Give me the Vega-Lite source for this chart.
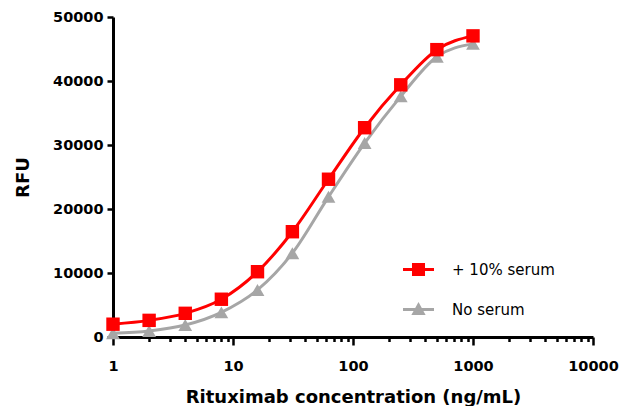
{
  "$schema": "https://vega.github.io/schema/vega-lite/v6.json",
  "width": 480,
  "height": 320,
  "autosize": {"type": "none"},
  "padding": {"left": 113, "top": 17, "right": 27, "bottom": 69},
  "background": "white",
  "config": {
    "view": {"stroke": null},
    "axis": {
      "labelFont": "DejaVu Sans",
      "titleFont": "DejaVu Sans",
      "labelFontWeight": "bold",
      "titleFontWeight": "bold",
      "labelColor": "black",
      "titleColor": "black",
      "domainColor": "black",
      "tickColor": "black",
      "domainWidth": 3,
      "tickWidth": 2.5,
      "grid": false,
      "labelFontSize": 14.5,
      "titleFontSize": 18
    }
  },
  "data": {
    "values": [
      {"conc": 1, "rfu": 2000, "series": "+ 10% serum"},
      {"conc": 2, "rfu": 2600, "series": "+ 10% serum"},
      {"conc": 4, "rfu": 3700, "series": "+ 10% serum"},
      {"conc": 8, "rfu": 5900, "series": "+ 10% serum"},
      {"conc": 16, "rfu": 10200, "series": "+ 10% serum"},
      {"conc": 31.25, "rfu": 16450, "series": "+ 10% serum"},
      {"conc": 62.5, "rfu": 24650, "series": "+ 10% serum"},
      {"conc": 125, "rfu": 32700, "series": "+ 10% serum"},
      {"conc": 250, "rfu": 39400, "series": "+ 10% serum"},
      {"conc": 500, "rfu": 44900, "series": "+ 10% serum"},
      {"conc": 1000, "rfu": 47050, "series": "+ 10% serum"},
      {"conc": 1, "rfu": 580, "series": "No serum"},
      {"conc": 2, "rfu": 950, "series": "No serum"},
      {"conc": 4, "rfu": 1870, "series": "No serum"},
      {"conc": 8, "rfu": 3850, "series": "No serum"},
      {"conc": 16, "rfu": 7350, "series": "No serum"},
      {"conc": 31.25, "rfu": 13100, "series": "No serum"},
      {"conc": 62.5, "rfu": 21900, "series": "No serum"},
      {"conc": 125, "rfu": 30300, "series": "No serum"},
      {"conc": 250, "rfu": 37600, "series": "No serum"},
      {"conc": 500, "rfu": 43800, "series": "No serum"},
      {"conc": 1000, "rfu": 45800, "series": "No serum"}
    ]
  },
  "encoding": {
    "x": {
      "field": "conc",
      "type": "quantitative",
      "scale": {"type": "log", "domain": [1, 10000], "nice": false},
      "axis": {
        "title": "Rituximab concentration (ng/mL)",
        "titlePadding": 16,
        "values": [1,2,3,4,5,6,7,8,9,10,20,30,40,50,60,70,80,90,100,200,300,400,500,600,700,800,900,1000,2000,3000,4000,5000,6000,7000,8000,9000,10000],
        "labelExpr": "(datum.value == 1 || datum.value == 10 || datum.value == 100 || datum.value == 1000 || datum.value == 10000) ? datum.value + '' : ''",
        "tickSize": {"condition": {"test": "datum.value == 1 || datum.value == 10 || datum.value == 100 || datum.value == 1000 || datum.value == 10000", "value": 8}, "value": 4.5},
        "labelPadding": 14,
        "labelFlush": false,
        "labelOverlap": false
      }
    },
    "y": {
      "field": "rfu",
      "type": "quantitative",
      "scale": {"domain": [0, 50000], "nice": false},
      "axis": {
        "title": "RFU",
        "values": [0, 10000, 20000, 30000, 40000, 50000],
        "format": "d",
        "tickSize": 6,
        "labelPadding": 4,
        "titlePadding": 20
      }
    },
    "color": {
      "field": "series",
      "type": "nominal",
      "scale": {"domain": ["+ 10% serum", "No serum"], "range": ["#ff0000", "#a6a6a6"]},
      "legend": {
        "orient": "none",
        "legendX": 290,
        "legendY": 237,
        "title": null,
        "labelFont": "DejaVu Sans",
        "labelFontSize": 15,
        "labelColor": "black",
        "symbolSize": 961,
        "symbolType": "M-1,-0.1H1V0.1H-1Z",
        "labelOffset": 18,
        "rowPadding": 16,
        "encode": {
          "symbols": {
            "update": {
              "shape": {"signal": "datum.value === '+ 10% serum' ? 'M-1,-0.1H1V0.1H-1Z M-0.42,-0.42H0.42V0.42H-0.42Z' : 'M-1,-0.1H1V0.1H-1Z M0,-0.48L0.46,0.36H-0.46Z'"},
              "fill": {"signal": "datum.value === '+ 10% serum' ? '#ff0000' : '#a6a6a6'"},
              "stroke": {"value": "transparent"},
              "strokeWidth": {"value": 0},
              "opacity": {"value": 1}
            }
          }
        }
      }
    }
  },
  "layer": [
    {
      "mark": {"type": "line", "interpolate": "monotone", "strokeWidth": 3}
    },
    {
      "transform": [{"filter": "datum.series === 'No serum'"}],
      "mark": {"type": "point", "filled": true, "opacity": 1, "size": 190, "shape": "triangle-up"}
    },
    {
      "transform": [{"filter": "datum.series === '+ 10% serum'"}],
      "mark": {"type": "point", "filled": true, "opacity": 1, "size": 180, "shape": "square"}
    }
  ]
}
